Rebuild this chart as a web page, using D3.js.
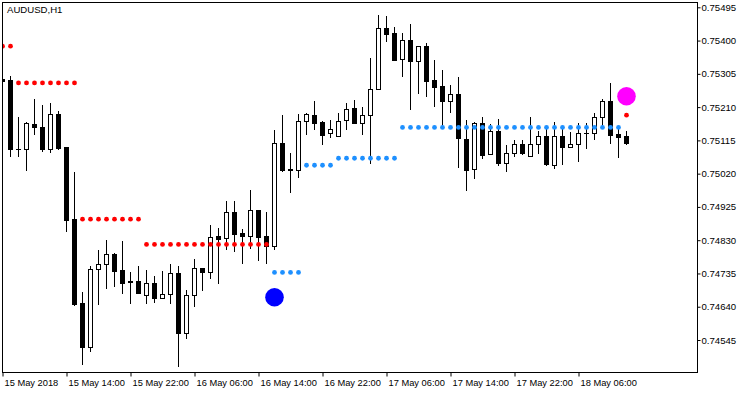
<!DOCTYPE html>
<html><head><meta charset="utf-8">
<script src="https://cdn.jsdelivr.net/npm/d3@7"></script>
<style>
html,body{margin:0;padding:0;background:#fff;}
svg text{font-family:"Liberation Sans",Arial,sans-serif;}
</style>
</head><body>
<svg id="c" width="750" height="394"></svg>
<script>
const symbolTitle = "AUDUSD,H1";
const tickIndex = [0, 8, 16, 24, 32, 40, 48, 56, 64, 72];
const tickLabels = ["15 May 2018","15 May 14:00","15 May 22:00","16 May 06:00","16 May 14:00","16 May 22:00","17 May 06:00","17 May 14:00","17 May 22:00","18 May 06:00"];
const priceTicks = [0.75495,0.75400,0.75305,0.75210,0.75115,0.75020,0.74925,0.74830,0.74735,0.74640,0.74545];

const open = [0.75289,0.75287,0.75089,0.75089,0.75161,0.75152,0.75091,0.75190,0.75096,0.74890,
0.74651,0.74526,0.74747,0.74761,0.74791,0.74745,0.74713,0.74713,0.74673,0.74707,
0.74666,0.74675,0.74735,0.74564,0.74673,0.74750,0.74738,0.74842,0.74835,0.74910,
0.74850,0.74843,0.74916,0.74841,0.74814,0.75107,0.75033,0.75029,0.75169,0.75187,
0.75167,0.75135,0.75127,0.75172,0.75207,0.75165,0.75187,0.75262,0.75435,0.75421,
0.75346,0.75402,0.75342,0.75384,0.75286,0.75269,0.75228,0.75247,0.75119,0.75032,
0.75164,0.75075,0.75142,0.75051,0.75080,0.75104,0.75071,0.75104,0.75127,0.75046,
0.75127,0.75097,0.75104,0.75135,0.75136,0.75183,0.75227,0.75133,0.75127];
const high = [0.75290,0.75299,0.75181,0.75167,0.75233,0.75216,0.75223,0.75199,0.75096,0.75025,
0.74682,0.74757,0.74802,0.74830,0.74793,0.74828,0.74739,0.74755,0.74745,0.74728,
0.74742,0.74761,0.74757,0.74688,0.74776,0.74750,0.74873,0.74866,0.74942,0.74942,
0.74862,0.74973,0.74916,0.74910,0.75145,0.75187,0.75078,0.75190,0.75193,0.75228,
0.75169,0.75173,0.75193,0.75221,0.75230,0.75211,0.75349,0.75473,0.75470,0.75438,
0.75421,0.75447,0.75384,0.75392,0.75344,0.75316,0.75273,0.75296,0.75173,0.75168,
0.75182,0.75161,0.75176,0.75102,0.75116,0.75116,0.75183,0.75142,0.75154,0.75167,
0.75154,0.75140,0.75164,0.75164,0.75192,0.75233,0.75280,0.75151,0.75142];
const low = [0.75283,0.75070,0.75070,0.75030,0.75133,0.75085,0.75083,0.75090,0.74856,0.74645,
0.74476,0.74514,0.74648,0.74694,0.74700,0.74680,0.74651,0.74680,0.74651,0.74654,
0.74666,0.74651,0.74472,0.74550,0.74643,0.74689,0.74721,0.74707,0.74804,0.74799,
0.74766,0.74807,0.74773,0.74766,0.74805,0.75028,0.74968,0.75010,0.75133,0.75148,
0.75105,0.75125,0.75127,0.75147,0.75165,0.75133,0.75051,0.75262,0.75400,0.75345,
0.75300,0.75205,0.75251,0.75243,0.75213,0.75157,0.75197,0.75040,0.74974,0.75008,
0.75066,0.75075,0.75046,0.75028,0.75070,0.75076,0.75071,0.75080,0.75045,0.75037,
0.75047,0.75097,0.75057,0.75094,0.75118,0.75158,0.75107,0.75067,0.75106];
const close = [0.75284,0.75089,0.75090,0.75164,0.75154,0.75090,0.75189,0.75092,0.74888,0.74648,
0.74526,0.74748,0.74761,0.74790,0.74743,0.74709,0.74710,0.74680,0.74707,0.74666,
0.74675,0.74735,0.74566,0.74673,0.74750,0.74738,0.74838,0.74834,0.74910,0.74848,
0.74843,0.74915,0.74840,0.74814,0.75107,0.75030,0.75030,0.75169,0.75189,0.75164,
0.75131,0.75147,0.75169,0.75205,0.75165,0.75187,0.75261,0.75435,0.75420,0.75345,
0.75401,0.75342,0.75384,0.75285,0.75268,0.75228,0.75247,0.75121,0.75031,0.75164,
0.75074,0.75142,0.75051,0.75078,0.75104,0.75080,0.75104,0.75127,0.75047,0.75127,
0.75097,0.75104,0.75135,0.75136,0.75183,0.75227,0.75131,0.75125,0.75108];

// level dots: [firstBar, lastBar, price]
const upperLevels = [[0,1,0.75384],[2,9,0.75279],[10,17,0.74890],[18,33,0.74818],[78,78,0.75187]];
const lowerLevels = [[34,37,0.74738],[38,41,0.75044],[42,49,0.75064],[50,77,0.75152]];
// signal circles: [bar, price]
const sellSignals = [[78,0.75241]];
const buySignals = [[34,0.74667]];

const svg = d3.select("#c");
const L = 2, T = 2, R = 697, B = 373;
const x = d3.scaleLinear().domain([0, 1]).range([2, 10]);
const y = d3.scaleLinear().domain([0.74545, 0.75495]).range([340, 7.3]);

svg.append("rect").attr("width",750).attr("height",394).attr("fill","#fff");
svg.append("clipPath").attr("id","clip").append("rect")
  .attr("x",L+1).attr("y",T+1).attr("width",R-L-1).attr("height",B-T-1);
const g = svg.append("g").attr("clip-path","url(#clip)");

const bars = d3.range(open.length).map(i => ({i, o:open[i], h:high[i], l:low[i], c:close[i]}));

// wicks
g.selectAll("line.wick").data(bars).join("line")
  .attr("x1", d => Math.round(x(d.i)) + 0.5).attr("x2", d => Math.round(x(d.i)) + 0.5)
  .attr("y1", d => Math.round(y(d.h))).attr("y2", d => Math.round(y(d.l)) + 1)
  .attr("stroke","#000").attr("stroke-width",1);

// bodies
bars.forEach(d => {
  const xc = Math.round(x(d.i));
  const yt = Math.round(y(Math.max(d.o, d.c)));
  const yb = Math.round(y(Math.min(d.o, d.c)));
  if (yb - yt < 2) {
    g.append("rect").attr("x", xc-2).attr("y", yt).attr("width",5).attr("height", Math.max(1, yb-yt+1)).attr("fill","#000");
  } else if (d.c >= d.o) {
    g.append("rect").attr("x", xc-2+0.5).attr("y", yt+0.5).attr("width",4).attr("height", yb-yt)
      .attr("fill","#fff").attr("stroke","#000").attr("stroke-width",1);
  } else {
    g.append("rect").attr("x", xc-2).attr("y", yt).attr("width",5).attr("height", yb-yt+1).attr("fill","#000");
  }
});

function dots(levels, color) {
  const pts = [];
  levels.forEach(([a,b,p]) => { for (let i=a;i<=b;i++) pts.push([i,p]); });
  g.selectAll(null).data(pts).join("circle")
    .attr("cx", d => x(d[0]) + 0.5).attr("cy", d => y(d[1]))
    .attr("r", 2.4).attr("fill", color);
}
dots(upperLevels, "#ff0000");
dots(lowerLevels, "#1e90ff");

g.selectAll(null).data(sellSignals).join("circle")
  .attr("cx", d => x(d[0]) + 0.5).attr("cy", d => y(d[1])).attr("r", 9.3).attr("fill","#ff00ff");
g.selectAll(null).data(buySignals).join("circle")
  .attr("cx", d => x(d[0]) + 0.5).attr("cy", d => y(d[1])).attr("r", 9.3).attr("fill","#0000ff");

// frame
svg.append("rect").attr("x",L+0.5).attr("y",T+0.5).attr("width",R-L).attr("height",B-T-1)
  .attr("fill","none").attr("stroke","#000").attr("stroke-width",1);

// y axis
const yAxis = d3.axisRight(y).tickValues(priceTicks).tickSize(3).tickPadding(1)
  .tickFormat(d3.format(".5f"));
const ya = svg.append("g").attr("transform", `translate(${R+0.5},0)`).call(yAxis);
ya.select(".domain").remove();
ya.selectAll("text").attr("font-size","9.6px").attr("fill","#000").attr("font-family","Liberation Sans, Arial, sans-serif");
ya.selectAll("line").attr("stroke","#000");

// x axis
const xAxis = d3.axisBottom(x).tickValues(tickIndex).tickSize(4).tickFormat((d,k) => tickLabels[k]);
const xa = svg.append("g").attr("transform", `translate(0,${B-0.5})`).call(xAxis);
xa.select(".domain").remove();
xa.selectAll(".tick line").attr("stroke","#000").attr("transform","translate(0.5,0)");
xa.selectAll("text").attr("text-anchor","start").attr("dx","2").attr("y",7).attr("dy","0.71em")
  .attr("font-size","9.3px").attr("fill","#000").attr("font-family","Liberation Sans, Arial, sans-serif");

svg.append("text").attr("x",7).attr("y",13).attr("font-size","9.6px").attr("fill","#000").text(symbolTitle);
</script>
</body></html>
